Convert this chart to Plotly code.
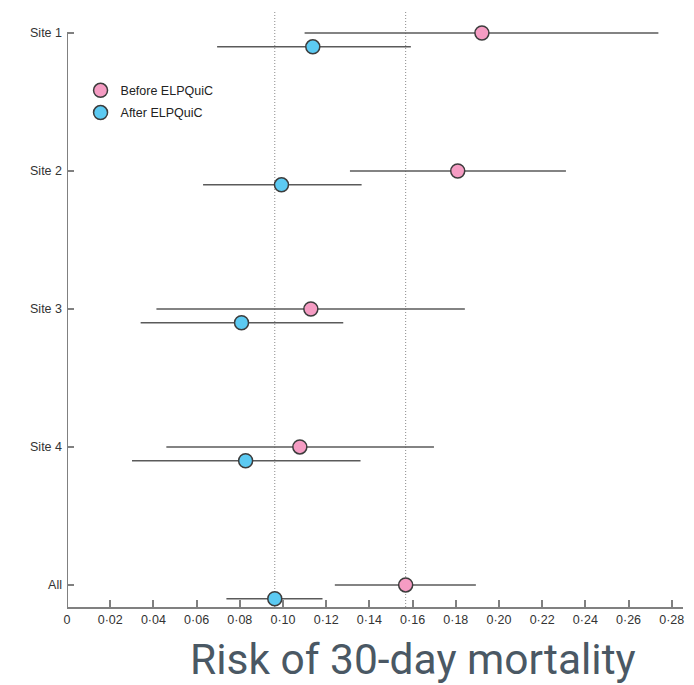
import plotly.graph_objects as go

# Sites, top to bottom
sites = ["Site 1", "Site 2", "Site 3", "Site 4", "All"]
site_pos = [4, 3, 2, 1, 0]

# Risk of 30-day mortality with 95% CI
before_risk = [0.1921, 0.1809, 0.1129, 0.1078, 0.1568]
before_low = [0.1100, 0.1310, 0.0414, 0.0460, 0.1240]
before_high = [0.2738, 0.2310, 0.1842, 0.1699, 0.1893]

after_risk = [0.1138, 0.0993, 0.0808, 0.0827, 0.0962]
after_low = [0.0695, 0.0630, 0.0341, 0.0301, 0.0738]
after_high = [0.1592, 0.1364, 0.1279, 0.1359, 0.1183]

# overall reference lines (pooled risk)
ref_lines = [0.0962, 0.1568]

x_ticks = [0, 0.02, 0.04, 0.06, 0.08, 0.10, 0.12, 0.14, 0.16, 0.18, 0.20, 0.22, 0.24, 0.26, 0.28]
x_tick_text = ["0"] + [f"{v:.2f}".replace(".", "·") for v in x_ticks[1:]]

AFTER_OFFSET = 0.1
LINE_COL = "#5a5a5a"
AXIS_COL = "#808080"
FONT = "Liberation Sans, Arial, sans-serif"

fig = go.Figure()

def add_series(name, risk, low, high, offset, colour):
    fig.add_trace(go.Scatter(
        x=risk,
        y=[p - offset for p in site_pos],
        mode="markers",
        name=name,
        legendgroup=name,
        marker=dict(size=14, color=colour, line=dict(color="#3c3c3c", width=1.5)),
        error_x=dict(
            type="data",
            symmetric=False,
            array=[h - r for h, r in zip(high, risk)],
            arrayminus=[r - l for r, l in zip(risk, low)],
            color=LINE_COL,
            thickness=1.5,
            width=0,
        ),
    ))

add_series("Before ELPQuiC", before_risk, before_low, before_high, 0.0, "#f59cc3")
add_series("After ELPQuiC", after_risk, after_low, after_high, AFTER_OFFSET, "#5ccaf2")

shapes = []
for v in ref_lines:
    shapes.append(dict(type="line", xref="x", yref="paper", x0=v, x1=v, y0=0, y1=1,
                       line=dict(color="#8a8a8a", width=1, dash="1px,2px"), layer="below"))
# vertical axis spine from the bottom to the top category
shapes.append(dict(type="line", xref="x", yref="y", x0=0, x1=0, y0=-0.16, y1=4,
                   line=dict(color=AXIS_COL, width=2)))

fig.update_layout(
    width=694,
    height=685,
    margin=dict(l=67, r=11, t=10, b=78),
    plot_bgcolor="white",
    paper_bgcolor="white",
    shapes=shapes,
    showlegend=True,
    legend=dict(
        x=0.022, y=0.89, xanchor="left", yanchor="top",
        font=dict(family=FONT, size=12.5, color="#222"),
        bgcolor="rgba(0,0,0,0)",
        itemwidth=30,
        traceorder="grouped",
        tracegroupgap=3,
    ),
    xaxis=dict(
        range=[0, 0.2852],
        tickvals=x_ticks,
        ticktext=x_tick_text,
        ticks="inside",
        ticklen=7,
        tickwidth=1.5,
        tickcolor=AXIS_COL,
        showline=True,
        linecolor=AXIS_COL,
        linewidth=2,
        showgrid=False,
        zeroline=False,
        tickfont=dict(family=FONT, size=12.5, color="#333"),
    ),
    yaxis=dict(
        range=[-0.16, 4.167],
        tickvals=site_pos,
        ticktext=sites,
        ticks="inside",
        ticklen=7,
        tickwidth=1.5,
        tickcolor=AXIS_COL,
        ticklabelstandoff=4,
        showline=False,
        showgrid=False,
        zeroline=False,
        tickfont=dict(family=FONT, size=12.5, color="#333"),
    ),
    annotations=[dict(
        text="Risk of 30-day mortality",
        xref="paper", yref="paper",
        x=(413 - 67) / 616, y=-78 / 597,
        xanchor="center", yanchor="bottom",
        borderpad=0,
        showarrow=False,
        font=dict(family="Roboto", size=42.5, color="#4a5864"),
    )],
)

fig.write_html("out.html")
